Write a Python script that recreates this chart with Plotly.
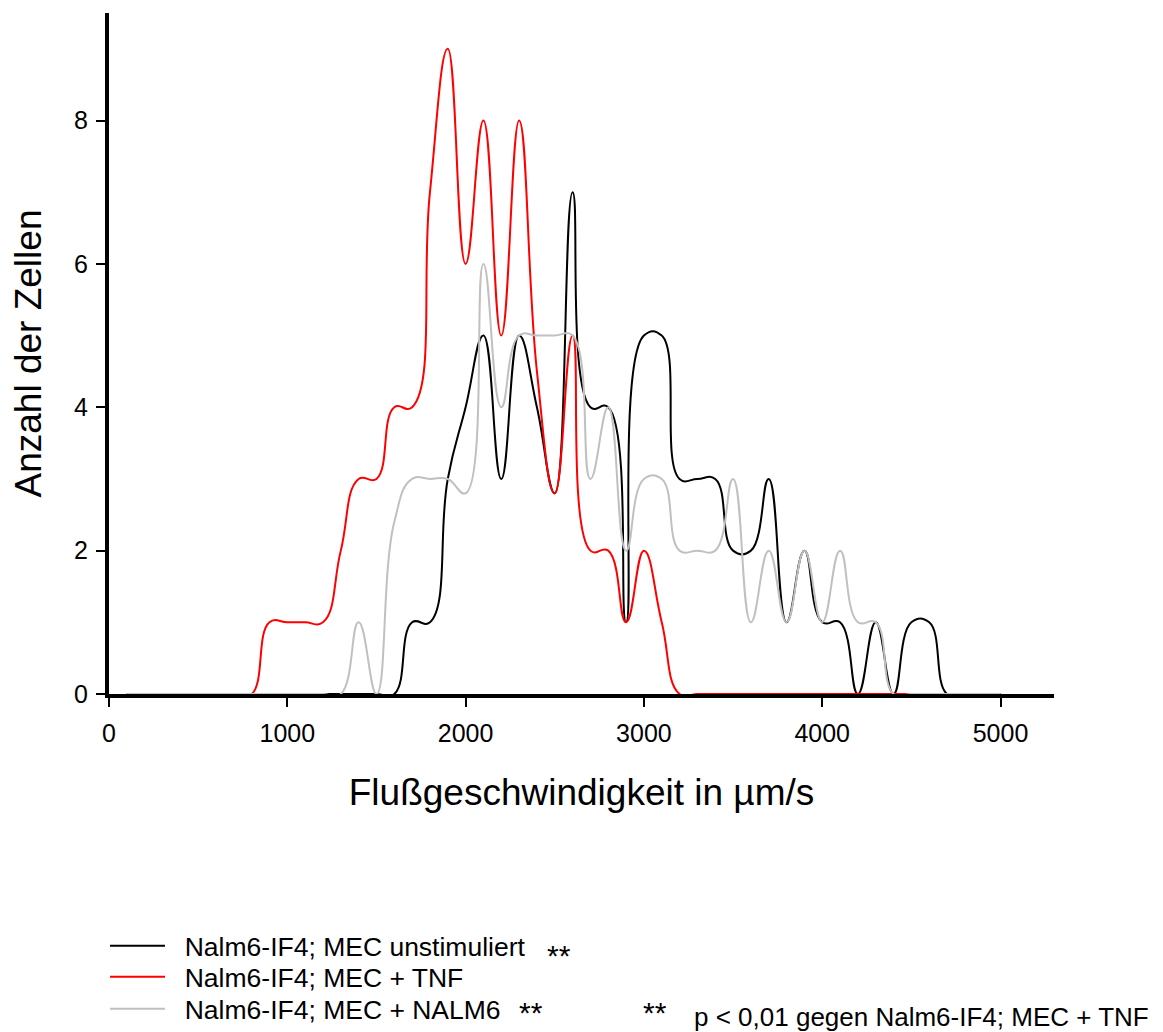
import plotly.graph_objects as go

# Flow velocity (µm/s) at which cells were counted
speed = [100, 200, 300, 400, 500, 600, 700, 800, 900, 1000,
         1100, 1200, 1300, 1400, 1500, 1600, 1700, 1800, 1900, 2000,
         2100, 2200, 2300, 2400, 2500, 2600, 2700, 2800, 2900, 3000,
         3100, 3200, 3300, 3400, 3500, 3600, 3700, 3800, 3900, 4000,
         4100, 4200, 4300, 4400, 4500, 4600, 4700, 4800, 4900, 5000]

# Nalm6-IF4; MEC unstimuliert
unstim = [0, 0, 0, 0, 0, 0, 0, 0, 0, 0,
          0, 0, 0, 0, 0, 0, 1, 1, 3, 4,
          5, 3, 5, 4, 2.8, 7, 4, 4, 1, 5,
          5, 3, 3, 3, 2, 2, 3, 1, 2, 1,
          1, 0, 1, 0, 1, 1, 0, 0, 0, 0]

# Nalm6-IF4; MEC + TNF
tnf = [0, 0, 0, 0, 0, 0, 0, 0, 1, 1,
       1, 1, 2, 3, 3, 4, 4, 7, 9, 6,
       8, 5, 8, 4.5, 2.8, 5, 2, 2, 1, 2,
       1, 0, 0, 0, 0, 0, 0, 0, 0, 0,
       0, 0, 0, 0, 0, 0, 0, 0, 0, 0]

# Nalm6-IF4; MEC + NALM6
nalm6 = [0, 0, 0, 0, 0, 0, 0, 0, 0, 0,
         0, 0, 0, 1, 0, 2.4, 3, 3, 3, 2.8,
         6, 4, 5, 5, 5, 5, 3, 4, 2, 3,
         3, 2, 2, 2, 3, 1, 2, 1, 2, 1,
         2, 1, 1, 0, 0, 0, 0, 0, 0, 0]

names = ["Nalm6-IF4; MEC unstimuliert", "Nalm6-IF4; MEC + TNF", "Nalm6-IF4; MEC + NALM6"]
colors = ["#000000", "#ff0000", "#c0c0c0"]
series = [unstim, tnf, nalm6]
legend_ids = ["legend", "legend2", "legend3"]
legend_rows_px = [946, 977, 1009]

x_ticks = [0, 1000, 2000, 3000, 4000, 5000]
y_ticks = [0, 2, 4, 6, 8]

FONT = "Liberation Sans, Arial, sans-serif"

W, H = 1163, 1032
L, R, T, B = 109, 109, 13, 338
pw = W - L - R
ph = H - T - B


def px_x(px):
    return (px - L) / pw


def px_y(py):
    return (H - B - py) / ph


fig = go.Figure()
for name, col, vals, lg in zip(names, colors, series, legend_ids):
    fig.add_trace(go.Scatter(
        x=speed, y=vals, mode="lines", name="\u00a0\u00a0" + name,
        line=dict(color=col, width=2, shape="spline", smoothing=1.3),
        legend=lg,
    ))

legend_common = dict(
    xanchor="left", yanchor="middle", orientation="v",
    font=dict(size=26.5, family=FONT, color="black"),
    itemwidth=55, bgcolor="rgba(0,0,0,0)", borderwidth=0,
)

layout_legends = {}
for lg, row in zip(legend_ids, legend_rows_px):
    layout_legends[lg] = dict(legend_common, x=px_x(105), y=px_y(row))

fig.update_layout(
    width=W, height=H,
    margin=dict(l=L, r=R, t=T, b=B, pad=0, autoexpand=False),
    paper_bgcolor="white", plot_bgcolor="white",
    font=dict(family=FONT, color="black"),
    showlegend=True,
    xaxis=dict(
        range=[0, 5300], tickvals=x_ticks, tickformat="d",
        showline=True, linewidth=4, linecolor="black",
        ticks="outside", ticklen=9, tickwidth=1.5, tickcolor="black",
        showgrid=False, zeroline=False, layer="below traces",
        tickfont=dict(size=25), ticklabelstandoff=5,
        title=dict(text="Flußgeschwindigkeit in µm/s", font=dict(size=37), standoff=34),
    ),
    yaxis=dict(
        range=[0, 9.5], tickvals=y_ticks,
        showline=True, linewidth=4, linecolor="black",
        ticks="outside", ticklen=9, tickwidth=1.5, tickcolor="black",
        showgrid=False, zeroline=False, layer="below traces",
        tickfont=dict(size=25), ticklabelstandoff=3,
        title=dict(text="Anzahl der Zellen", font=dict(size=37), standoff=22),
    ),
    **layout_legends,
)

# significance marks and footnote: (text, x px, y px, size, xanchor, yanchor)
ann = [
    ("**", 559, 955, 30, "center", "middle"),
    ("**", 531, 1031, 30, "center", "bottom"),
    ("**", 655, 1031, 30, "center", "bottom"),
    ("p < 0,01 gegen Nalm6-IF4; MEC + TNF", 692, 1017, 26, "left", "middle"),
]
for txt, ax_, ay_, fs, xa, ya in ann:
    fig.add_annotation(
        text=txt, x=px_x(ax_), y=px_y(ay_), xref="paper", yref="paper",
        xanchor=xa, yanchor=ya, showarrow=False,
        font=dict(size=fs, family=FONT, color="black"),
    )

fig.write_html("out.html")
